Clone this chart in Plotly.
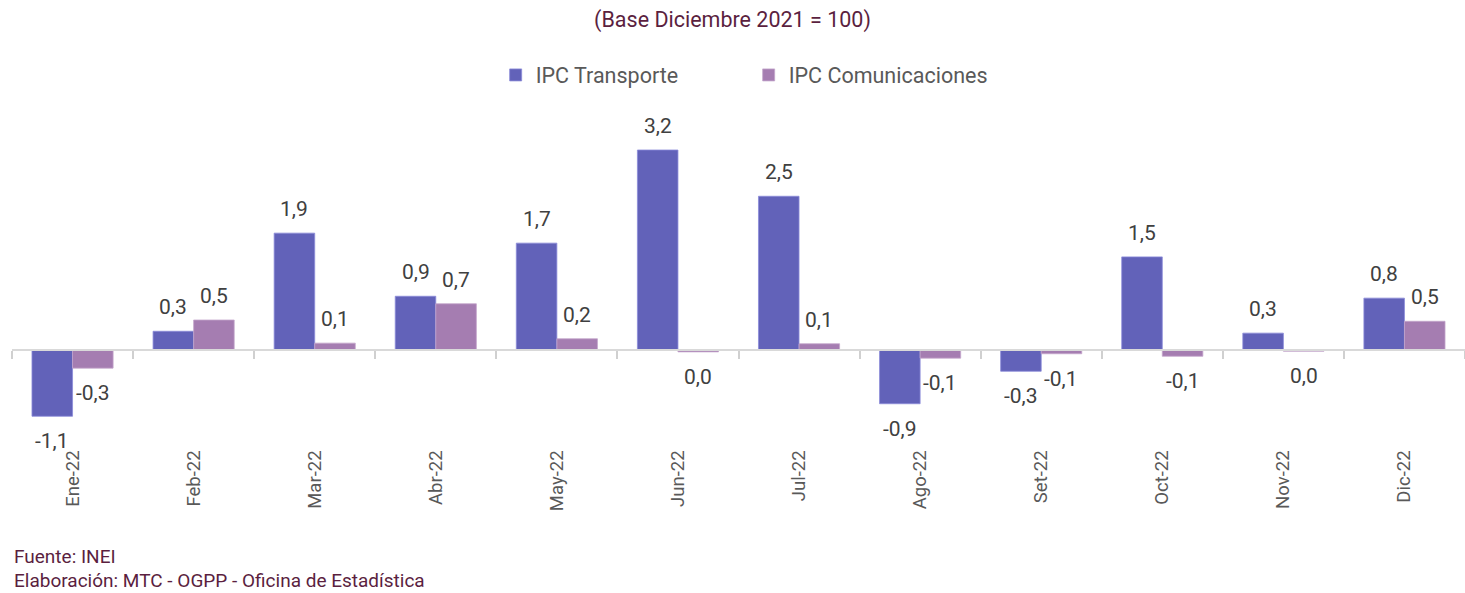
import plotly.graph_objects as go

months = ["Ene-22", "Feb-22", "Mar-22", "Abr-22", "May-22", "Jun-22",
          "Jul-22", "Ago-22", "Set-22", "Oct-22", "Nov-22", "Dic-22"]
transporte = [-1.06, 0.30, 1.87, 0.86, 1.71, 3.20, 2.46, -0.86, -0.34, 1.49, 0.27, 0.83]
comunicaciones = [-0.29, 0.48, 0.11, 0.74, 0.18, -0.03, 0.10, -0.13, -0.06, -0.10, -0.02, 0.46]

C_T = "#6262b9"
C_C = "#a57db1"
MAROON = "#5b1f3f"
GREY_TXT = "#404040"
BARGAP = 0.33
YMIN, YMAX = -1.568, 4.0


def fmt(v):
    s = f"{v:.1f}".replace(".", ",")
    return "0,0" if s == "-0,0" else s


fig = go.Figure()
fig.add_trace(go.Bar(x=months, y=transporte, name="IPC Transporte",
                     marker=dict(color=C_T, line=dict(color="#8c8cd9", width=0.8)),
                     hoverinfo="x+y"))
fig.add_trace(go.Bar(x=months, y=comunicaciones, name="IPC Comunicaciones",
                     marker=dict(color=C_C, line=dict(color="#c4a6cc", width=0.8)),
                     hoverinfo="x+y"))

annotations = []
off = (1 - BARGAP) / 4
for series, sign in ((transporte, -1), (comunicaciones, 1)):
    for i, v in enumerate(series):
        annotations.append(dict(
            x=i + sign * off, y=v, xref="x", yref="y", text=fmt(v),
            showarrow=False, yshift=24 if v >= 0 else -25,
            font=dict(size=21, color=GREY_TXT, family="Roboto"),
            xanchor="center", yanchor="middle"))

annotations.append(dict(
    x=0, y=-0.313, xref="paper", yref="paper", xanchor="left", yanchor="middle",
    text="Fuente: INEI", showarrow=False,
    font=dict(size=19, color=MAROON, family="Roboto")))
annotations.append(dict(
    x=0, y=-0.382, xref="paper", yref="paper", xanchor="left", yanchor="middle",
    text="Elaboración: MTC - OGPP - Oficina de Estadística", showarrow=False,
    font=dict(size=19, color=MAROON, family="Roboto")))

zero_pos = (0 - YMIN) / (YMAX - YMIN)

fig.update_layout(
    width=1465, height=593,
    margin=dict(l=12, r=0, t=100, b=145),
    paper_bgcolor="white", plot_bgcolor="white",
    font=dict(family="Roboto", color=GREY_TXT),
    barmode="group", bargap=BARGAP, bargroupgap=0,
    title=dict(text="(Base Diciembre 2021 = 100)", x=0.5, xanchor="center",
               y=1 - 19 / 593, yanchor="middle", yref="container",
               font=dict(size=21.5, color=MAROON, family="Roboto")),
    legend=dict(orientation="h", x=0.507, xanchor="center", y=1.072, yanchor="middle",
                font=dict(size=21.5, color="#595959", family="Roboto"),
                entrywidth=208, itemwidth=30, traceorder="normal"),
    xaxis=dict(type="category", anchor="free", position=zero_pos, side="bottom",
               showline=True, linecolor="#d9d9d9", linewidth=2,
               ticks="outside", tickson="boundaries", ticklen=8, tickwidth=2,
               tickcolor="#d0d0d0", showgrid=False, zeroline=False, tickangle=-90,
               ticklabelstandoff=92,
               tickfont=dict(size=18.5, color="#595959", family="Roboto")),
    yaxis=dict(range=[YMIN, YMAX], showticklabels=False, ticks="", showgrid=False,
               showline=False, zeroline=False),
    annotations=annotations,
)

fig.write_html("out.html", post_script="document.body.style.margin='0';",
               config={"displayModeBar": False})
